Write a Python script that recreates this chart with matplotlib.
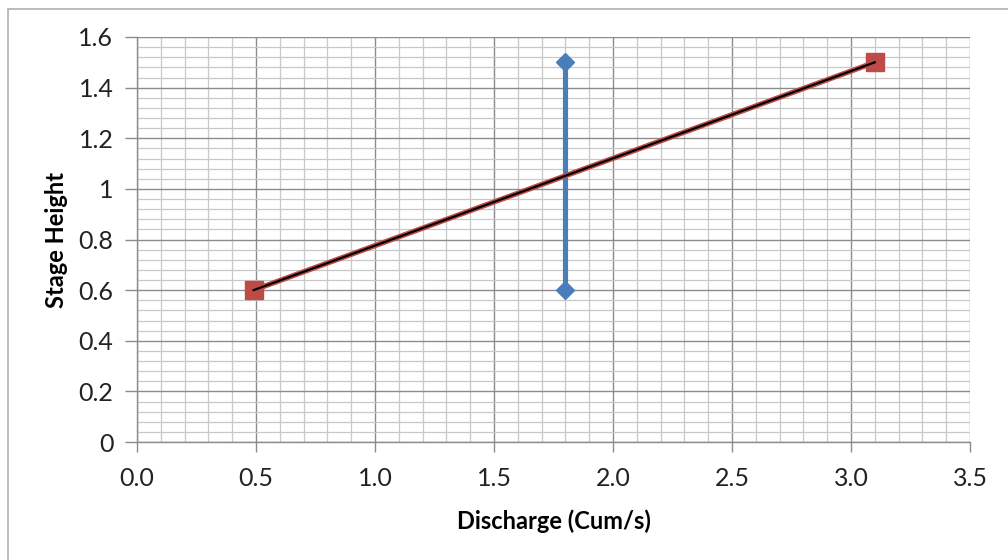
import numpy as np
import matplotlib
matplotlib.use("Agg")
import matplotlib.pyplot as plt
from matplotlib.ticker import MultipleLocator, FormatStrFormatter

# data
blue_x = [1.8, 1.8]
blue_y = [0.6, 1.5]
red_x = [0.49, 3.1]
red_y = [0.6, 1.5]

plt.rcParams['font.family'] = ['Lato', 'DejaVu Sans']

fig = plt.figure(figsize=(10.08, 5.6), dpi=100)
ax = fig.add_axes([137/1008, 1-442/560, (970-137)/1008, (442-37)/560])

# chart area border (left and top visible)
fig.patches.append(plt.Rectangle((8/1008, -0.1), 1.2, 1-9/560+0.1, transform=fig.transFigure,
                                 fill=False, edgecolor='#b0b0b0', linewidth=1.2))

ax.set_xlim(0, 3.5)
ax.set_ylim(0, 1.6)
ax.xaxis.set_major_locator(MultipleLocator(0.5))
ax.xaxis.set_minor_locator(MultipleLocator(0.1))
ax.yaxis.set_major_locator(MultipleLocator(0.2))
ax.yaxis.set_minor_locator(MultipleLocator(0.04))
ax.xaxis.set_major_formatter(FormatStrFormatter('%.1f'))
ax.yaxis.set_major_formatter(plt.FuncFormatter(lambda v, p: ('%g' % round(v, 2))))

ax.grid(which='major', color='#8c8c8c', linewidth=1.0)
ax.grid(which='minor', color='#c8c8c8', linewidth=0.9)
ax.set_axisbelow(True)

for s in ['top', 'right']:
    ax.spines[s].set_visible(False)
for s in ['left', 'bottom']:
    ax.spines[s].set_color('#8c8c8c')
    ax.spines[s].set_linewidth(1.0)

ax.tick_params(which='major', length=7, width=1, color='#8c8c8c', labelsize=18, labelcolor='#222222', pad=11)
ax.tick_params(axis='y', which='major', length=9, pad=8)
ax.tick_params(which='minor', length=0)

ax.plot(blue_x, blue_y, color='#4a7ebb', linewidth=3.7, marker='D', markersize=9, zorder=3)
ax.plot(red_x, red_y, color='#be4b48', linewidth=3.8, marker='s', markersize=13, zorder=4)
ax.plot(red_x, red_y, color='black', linewidth=1.6, zorder=5)

ax.set_xlabel('Discharge (Cum/s)', fontsize=17, fontweight='bold', labelpad=14)
ax.set_ylabel('Stage Height', fontsize=17, fontweight='bold')
ax.yaxis.set_label_coords(-0.083, 0.5)

fig.savefig('out.png', dpi=100, facecolor='white')
